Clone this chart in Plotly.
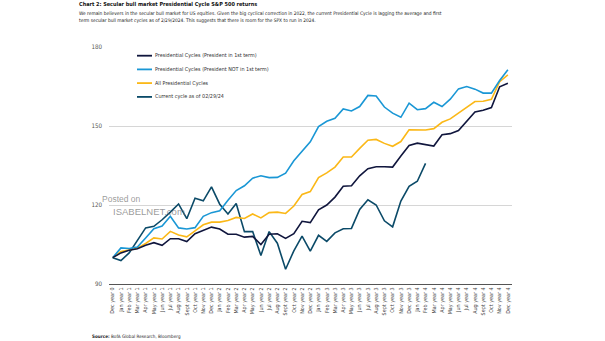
import plotly.graph_objects as go

# Month labels along the four-year cycle (Dec of year 0 through Dec of year 4)
months = ["Jan", "Feb", "Mar", "Apr", "May", "Jun", "Jul", "Aug", "Sept", "Oct", "Nov", "Dec"]
tick_labels = ["Dec year 0"] + [f"{m} year {y}" for y in range(1, 5) for m in months]

# S&P 500 indexed to 100 at Dec of year 0
first_term = [100, 101.8, 102.8, 103.4, 104.7, 105.7, 104.7, 107.2, 107.2, 106.1, 109.1, 110.4, 111.6,
              110.9, 108.9, 108.9, 107.8, 108.1, 105.0, 108.9, 109.1, 107.3, 109.1, 113.8, 113.3,
              118.2, 120.0, 123.0, 127.1, 127.3, 131.1, 133.8, 134.5, 134.5, 134.4, 138.6, 142.6,
              143.5, 143.0, 142.4, 146.7, 147.1, 148.3, 151.7, 155.3, 156.0, 157.0, 164.9, 166.2]
not_first_term = [100, 103.7, 103.5, 104.0, 107.5, 111.0, 112.0, 115.7, 111.3, 110.9, 111.4, 115.7, 117.1,
                  117.8, 121.8, 125.5, 127.3, 130.2, 131.1, 130.4, 130.5, 132.1, 136.8, 140.4, 144.0,
                  149.8, 151.8, 152.9, 156.5, 155.7, 157.4, 161.6, 161.4, 157.2, 154.9, 153.3, 158.7,
                  156.2, 156.6, 159.0, 157.4, 160.2, 164.1, 165.0, 164.0, 162.5, 162.5, 167.3, 171.4]
all_cycles = [100, 102.3, 102.9, 103.6, 105.4, 107.5, 107.1, 110.0, 108.6, 107.9, 110.2, 112.5, 113.5,
              113.5, 114.1, 115.3, 114.9, 116.6, 115.1, 117.1, 117.3, 116.8, 119.6, 124.0, 125.1,
              130.4, 132.2, 134.4, 138.2, 138.2, 141.5, 144.6, 144.9, 143.4, 142.3, 144.1, 148.6,
              148.6, 148.5, 149.0, 151.4, 152.7, 154.8, 157.2, 159.3, 159.4, 160.1, 166.8, 169.4]
current_cycle = [100, 98.9, 101.8, 106.5, 111.3, 111.9, 114.4, 117.3, 120.4, 114.8, 122.6, 121.6, 126.9,
                 120.3, 116.6, 120.6, 109.9, 109.9, 100.8, 109.9, 105.5, 95.6, 102.6, 108.2, 102.5,
                 108.5, 106.2, 109.4, 111.0, 111.1, 118.3, 122.0, 120.0, 114.0, 111.7, 121.5, 127.1,
                 129.0, 135.8]

series_names = ["Presidential Cycles (President in 1st term)",
                "Presidential Cycles (President NOT in 1st term)",
                "All Presidential Cycles",
                "Current cycle as of 02/29/24"]
series_values = [first_term, not_first_term, all_cycles, current_cycle]
series_colors = ["#10163d", "#1a97d5", "#fbb817", "#0b4a68"]

y_ticks = [90, 120, 150, 180]

W, H = 605, 341
L, R, T, B = 109, 93, 47.3, 56.7
PW, PH = W - L - R, H - T - B

FONT = "Liberation Sans Narrow, Arial Narrow, DejaVu Sans Condensed, Roboto, sans-serif"


def px(x):
    return (x - L) / PW


def py(y):
    return 1 - (y - T) / PH


fig = go.Figure()
# current cycle underneath, the three historical averages drawn over it
draw_order = [3, 2, 1, 0]
for k in draw_order:
    vals = series_values[k]
    fig.add_trace(go.Scatter(
        x=list(range(len(vals))), y=vals, mode="lines", name=series_names[k],
        line=dict(color=series_colors[k], width=1.6), showlegend=False,
    ))

# Hand-built legend, top-left inside the plot
legend_y = [56.0, 69.7, 83.4, 97.2]
for name, color, ly in zip(series_names, series_colors, legend_y):
    fig.add_shape(type="line", xref="paper", yref="paper",
                  x0=px(137), x1=px(152), y0=py(ly), y1=py(ly),
                  line=dict(color=color, width=1.8))
    fig.add_annotation(xref="paper", yref="paper", x=px(153), y=py(ly),
                       text=name, showarrow=False, xanchor="left", yanchor="middle",
                       font=dict(family=FONT, size=5.4, color="#333333"))

# Title, subtitle and source
fig.add_annotation(xref="paper", yref="paper", x=px(77), y=py(4.6),
                   text="<b>Chart 2: Secular bull market Presidential Cycle S&P 500 returns</b>",
                   showarrow=False, xanchor="left", yanchor="middle",
                   font=dict(family=FONT, size=5.5, color="#111111"))
subtitle = ["We remain believers in the secular bull market for US equities. Given the big cyclical "
            "correction in 2022, the current Presidential Cycle is lagging the average and first",
            "term secular bull market cycles as of 2/29/2024. This suggests that there is room for "
            "the SPX to run in 2024."]
for line, ly in zip(subtitle, [13.6, 20.8]):
    fig.add_annotation(xref="paper", yref="paper", x=px(77), y=py(ly), text=line,
                       showarrow=False, xanchor="left", yanchor="middle",
                       font=dict(family=FONT, size=4.85, color="#222222"))
fig.add_annotation(xref="paper", yref="paper", x=px(90), y=py(336.5),
                   text="<b>Source:</b> BofA Global Research, Bloomberg",
                   showarrow=False, xanchor="left", yanchor="middle",
                   font=dict(family=FONT, size=4.6, color="#222222"))

# Site watermark
fig.add_annotation(xref="paper", yref="paper", x=px(100), y=py(199.5), text="Posted on",
                   showarrow=False, xanchor="left", yanchor="middle",
                   font=dict(family="Liberation Sans, Arial, sans-serif", size=8.5, color="rgba(120,120,120,0.75)"))
fig.add_annotation(xref="paper", yref="paper", x=px(111), y=py(211.5), text="ISABELNET.com",
                   showarrow=False, xanchor="left", yanchor="middle",
                   font=dict(family="Liberation Sans, Arial, sans-serif", size=9.5, color="rgba(120,120,120,0.75)"))

fig.update_xaxes(
    range=[-0.45, 48.5], tickmode="array", tickvals=list(range(len(tick_labels))),
    ticktext=tick_labels, tickangle=-90, showgrid=False, zeroline=False,
    showline=True, linecolor="#555555", linewidth=1.4, ticks="",
    tickfont=dict(family=FONT, size=5.4, color="#444444"),
)
fig.update_yaxes(
    range=[90, 180], tickvals=y_ticks, showgrid=True, gridcolor="#d6d6d6", gridwidth=1,
    zeroline=False, showline=False, ticks="", ticklabelstandoff=6,
    tickfont=dict(family=FONT, size=6.2, color="#555555"),
)
fig.update_layout(
    width=W, height=H, margin=dict(l=L, r=R, t=T, b=B, autoexpand=False),
    paper_bgcolor="white", plot_bgcolor="white",
)

fig.write_html("out.html")
